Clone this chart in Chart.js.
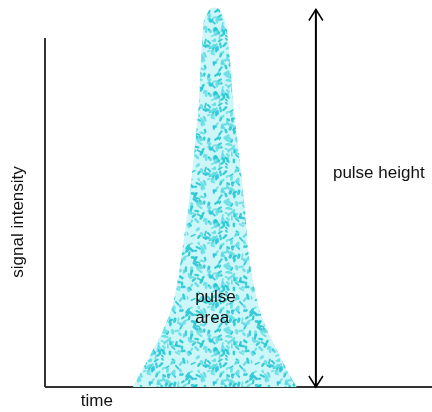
<!DOCTYPE html>
<html>
<head>
<meta charset="utf-8">
<script src="https://cdn.jsdelivr.net/npm/chart.js@4/dist/chart.umd.min.js"></script>
<style>
html, body { margin: 0; padding: 0; background: #fff; }
</style>
</head>
<body>
<canvas id="pulse" width="432" height="412"></canvas>
<script>
// pulse shape (time, signal intensity)
var pulseTime = [2.27, 2.51, 2.79, 3.05, 3.33, 3.53, 3.72, 3.90, 3.98, 4.03, 4.08, 4.21, 4.38,
                 4.55, 4.70, 4.78, 4.86, 4.96, 5.14, 5.27, 5.48, 5.74, 5.99, 6.25, 6.51];
var pulseSignal = [0, 0.045, 0.098, 0.150, 0.229, 0.348, 0.493, 0.664, 0.756, 0.862, 0.941, 0.988, 1.0,
                   0.988, 0.941, 0.862, 0.756, 0.664, 0.493, 0.348, 0.229, 0.150, 0.098, 0.045, 0];

// axes and the "pulse height" arrow
var axisTop = 0.92;
var axisEnd = 10;
var arrowTime = 7.0;
var arrowTop = 0.995;

// text labels: [text, time, signal, align, rotate]
var labels = [
    ['pulse height', 7.44, 0.564, 'left', false],
    ['pulse', 3.88, 0.237, 'left', false],
    ['area', 3.88, 0.182, 'left', false],
    ['time', 1.34, -0.039, 'center', false],
    ['signal intensity', -0.7, 0.435, 'center', true]
];

var canvas = document.getElementById("pulse");
var ctx = canvas.getContext("2d");

// mottled cyan texture for the pulse area
function speckle() {
    var n = 64;
    var c = document.createElement('canvas');
    c.width = n; c.height = n;
    var g = c.getContext('2d');
    g.fillStyle = '#cdf6f8';
    g.fillRect(0, 0, n, n);
    var seed = 11;
    function next() { seed = (seed * 16807) % 2147483647; return seed / 2147483647; }
    g.filter = 'blur(0.6px)';
    g.lineCap = 'round';
    for (var i = 0; i < 170; i++) {
        var x = next() * n, y = next() * n;
        var a = next() * Math.PI * 2, len = 1.5 + next() * 3;
        var dark = next() < 0.5;
        g.strokeStyle = dark ? 'rgba(40,200,212,0.9)' : 'rgba(105,222,230,0.9)';
        g.lineWidth = 1.6 + next() * 1.4;
        for (var dx = -n; dx <= n; dx += n) {
            for (var dy = -n; dy <= n; dy += n) {
                g.beginPath();
                g.moveTo(x + dx, y + dy);
                g.lineTo(x + dx + Math.cos(a) * len, y + dy + Math.sin(a) * len);
                g.stroke();
            }
        }
    }
    return ctx.createPattern(c, 'repeat');
}

var pulsePoints = pulseTime.map(function (t, i) { return { x: t, y: pulseSignal[i] }; });

var extras = {
    id: 'extras',
    afterDatasetsDraw: function (chart) {
        var c = chart.ctx;
        var sx = chart.scales.x, sy = chart.scales.y;
        var meta = chart.getDatasetMeta(3);
        var top = meta.data[1], bot = meta.data[0];
        c.save();
        c.strokeStyle = '#000';
        c.lineWidth = 1.5;
        c.beginPath();
        c.moveTo(top.x - 7, top.y + 11); c.lineTo(top.x, top.y); c.lineTo(top.x + 7, top.y + 11);
        c.moveTo(bot.x - 7, bot.y - 11); c.lineTo(bot.x, bot.y); c.lineTo(bot.x + 7, bot.y - 11);
        c.stroke();
        c.fillStyle = '#111';
        c.font = '17px "Liberation Sans", Arial, sans-serif';
        c.textBaseline = 'middle';
        labels.forEach(function (l) {
            var px = sx.getPixelForValue(l[1]), py = sy.getPixelForValue(l[2]);
            c.save();
            c.translate(px, py);
            if (l[4]) c.rotate(-Math.PI / 2);
            c.textAlign = l[3];
            c.fillText(l[0], 0, 0);
            c.restore();
        });
        c.restore();
    }
};

var pulseChart = new Chart(canvas, {
    type: 'line',
    data: {
        datasets: [{
            data: pulsePoints,
            backgroundColor: speckle(),
            borderWidth: 0,
            fill: 'origin',
            pointRadius: 0,
            cubicInterpolationMode: 'monotone'
        }, {
            data: [{ x: 0, y: axisTop }, { x: 0, y: 0 }],
            borderColor: '#333',
            borderWidth: 2,
            pointRadius: 0,
            fill: false
        }, {
            data: [{ x: 0, y: 0 }, { x: axisEnd, y: 0 }],
            borderColor: '#333',
            borderWidth: 2,
            pointRadius: 0,
            fill: false
        }, {
            data: [{ x: arrowTime, y: 0 }, { x: arrowTime, y: arrowTop }],
            borderColor: '#000',
            borderWidth: 2,
            pointRadius: 0,
            fill: false
        }]
    },
    options: {
        responsive: false,
        animation: false,
        clip: false,
        layout: {
            padding: { left: 45, right: 0, top: 0, bottom: 25 }
        },
        scales: {
            x: { type: 'linear', min: 0, max: axisEnd, display: false },
            y: { min: 0, max: 1.02, display: false }
        },
        plugins: {
            legend: { display: false },
            tooltip: { enabled: false }
        }
    },
    plugins: [extras]
});
</script>
</body>
</html>
